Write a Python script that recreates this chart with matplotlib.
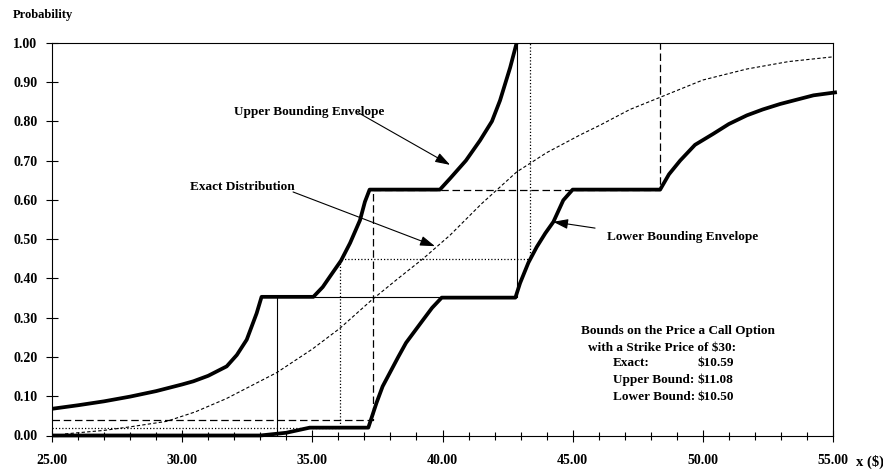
import matplotlib
matplotlib.use('Agg')
import matplotlib.pyplot as plt
from matplotlib.ticker import MultipleLocator, FormatStrFormatter

plt.rcParams['font.family'] = ['Liberation Serif', 'DejaVu Serif']

# upper / lower bounding envelopes of the distribution of x
upper_x = [25, 26, 27, 28, 29, 30, 30.43, 31, 31.71, 32.1, 32.48, 32.86, 33.05,
           35.04, 35.4, 35.68, 36.1, 36.45, 36.83, 37.02, 37.2,
           39.9, 40.3, 40.9, 41.44, 41.9, 42.21, 42.6, 42.85]
upper_y = [0.068, 0.077, 0.087, 0.099, 0.113, 0.130, 0.138, 0.152, 0.176, 0.205, 0.244, 0.311, 0.353,
           0.353, 0.378, 0.405, 0.445, 0.490, 0.548, 0.595, 0.626,
           0.626, 0.655, 0.700, 0.751, 0.800, 0.853, 0.937, 1.000]

lower_x = [25, 33.0, 34.0, 34.9, 37.15, 37.3, 37.47, 37.7, 37.98, 38.3, 38.6, 39.25, 39.6, 39.97,
           42.8, 42.98, 43.3, 43.62, 43.95, 44.26, 44.64, 45.0,
           48.36, 48.7, 49.13, 49.7, 50.4, 51.0, 51.69, 52.3, 52.97, 54.25, 55.15]
lower_y = [0.0, 0.0, 0.007, 0.020, 0.020, 0.050, 0.084, 0.125, 0.160, 0.200, 0.236, 0.294, 0.325, 0.351,
           0.351, 0.388, 0.440, 0.480, 0.515, 0.544, 0.599, 0.626,
           0.626, 0.665, 0.700, 0.740, 0.768, 0.793, 0.815, 0.830, 0.844, 0.866, 0.874]

# exact lognormal-type distribution
exact_x = [25.5, 26, 27, 28, 29.4, 30.5, 31.7, 33.63, 35, 36.06, 37.28, 38.3, 39.27, 40.29,
           41.5, 42.85, 44, 45.28, 46.05, 47.2, 48.36, 50, 51.69, 53.3, 55]
exact_y = [0.004, 0.007, 0.013, 0.022, 0.036, 0.060, 0.094, 0.160, 0.220, 0.273, 0.345, 0.400, 0.451, 0.510,
           0.590, 0.671, 0.720, 0.765, 0.790, 0.830, 0.861, 0.905, 0.933, 0.952, 0.964]

# discrete approximations (step functions)
solid_x = [33.63, 33.63, 42.85, 42.85]
solid_y = [0.0, 0.353, 0.353, 1.0]
dashed_x = [25, 37.32, 37.32, 48.36, 48.36]
dashed_y = [0.04, 0.04, 0.626, 0.626, 1.0]
dotted_x = [25, 36.08, 36.08, 43.35, 43.35]
dotted_y = [0.02, 0.02, 0.449, 0.449, 1.0]

bound_labels = ['Exact:', 'Upper Bound:', 'Lower Bound:']
bound_values = ['$10.59', '$11.08', '$10.50']

fig = plt.figure(figsize=(8.83, 4.71), dpi=100)
ax = fig.add_axes([52 / 883, 35.5 / 471, 781 / 883, 392.8 / 471])

ax.plot(solid_x, solid_y, color='black', lw=0.8)
ax.plot(dashed_x, dashed_y, color='black', lw=0.9, dashes=(6, 3))
ax.plot(dotted_x, dotted_y, color='black', lw=0.9, dashes=(1, 1.6))
ax.plot(exact_x, exact_y, color='black', lw=0.8, dashes=(3, 2))
ax.plot(upper_x, upper_y, color='black', lw=2.7, solid_joinstyle='round', solid_capstyle='butt')
ax.plot(lower_x, lower_y, color='black', lw=2.7, solid_joinstyle='round', solid_capstyle='butt',
        clip_on=False)

ax.set_xlim(25, 55)
ax.set_ylim(0, 1)
ax.xaxis.set_major_locator(MultipleLocator(5))
ax.xaxis.set_minor_locator(MultipleLocator(1))
ax.yaxis.set_major_locator(MultipleLocator(0.1))
ax.xaxis.set_major_formatter(FormatStrFormatter('%.2f'))
ax.yaxis.set_major_formatter(FormatStrFormatter('%.2f'))
ax.tick_params(axis='x', which='major', direction='inout', length=9, width=0.8, pad=9,
               labelsize=10, top=False)
ax.tick_params(axis='x', which='minor', direction='inout', length=6, width=0.8, top=False)
ax.tick_params(axis='y', which='major', direction='inout', length=9, width=0.8, pad=6,
               labelsize=10, right=False)
for lab in ax.get_xticklabels() + ax.get_yticklabels():
    lab.set_fontweight('bold')
for sp in ax.spines.values():
    sp.set_linewidth(0.8)

fig.text(13 / 883, 1 - 15 / 471, 'Probability', fontsize=9, fontweight='bold', va='center', ha='left')
# axis title runs off the right edge of the page
fig.text(856 / 883, 1 - 462 / 471, 'x ($)', fontsize=10.5, fontweight='bold', va='center', ha='left')

arrow = dict(arrowstyle='-|>,head_length=0.9,head_width=0.3', color='black', lw=0.8,
             shrinkA=0, shrinkB=0)
tf = dict(fontsize=9.5, fontweight='bold', va='center')

ax.text(34.87, 0.824, 'Upper Bounding Envelope', ha='center', **tf)
ax.annotate('', xy=(40.29, 0.689), xytext=(36.76, 0.822), arrowprops=arrow)

ax.text(32.32, 0.633, 'Exact Distribution', ha='center', **tf)
ax.annotate('', xy=(39.71, 0.482), xytext=(34.26, 0.620), arrowprops=arrow)

ax.text(46.32, 0.505, 'Lower Bounding Envelope', ha='left', **tf)
ax.annotate('', xy=(44.25, 0.544), xytext=(45.86, 0.528), arrowprops=arrow)

ax.text(49.05, 0.265, 'Bounds on the Price a Call Option', ha='center', **tf)
ax.text(48.45, 0.222, 'with a Strike Price of $30:', ha='center', **tf)
for i, (lab, val) in enumerate(zip(bound_labels, bound_values)):
    yy = 0.184 - i * 0.0425
    ax.text(46.55, yy, lab, ha='left', **tf)
    ax.text(49.8, yy, val, ha='left', **tf)

fig.savefig('out.png', dpi=100)
